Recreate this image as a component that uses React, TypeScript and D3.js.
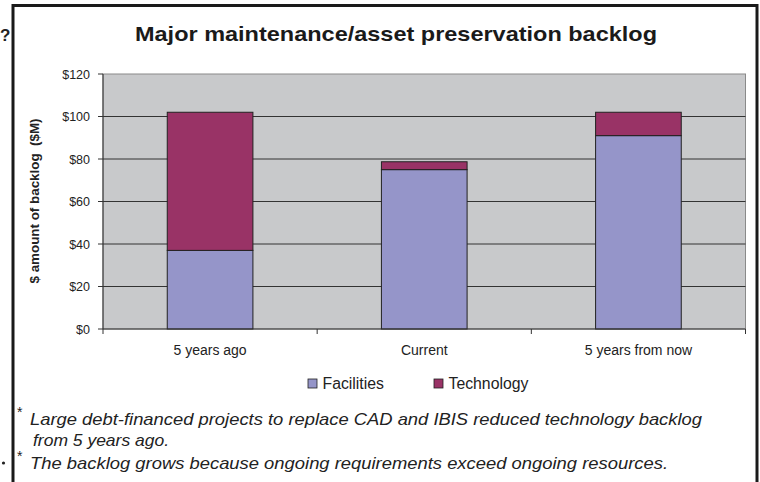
import { useEffect } from 'react';
import * as d3 from 'd3';

const categories = ['5 years ago', 'Current', '5 years from now'];
const facilities = [37, 75, 91];
const technology = [65, 3.7, 11];
const seriesNames = ['Facilities', 'Technology'];
const seriesColors = ['#9595c9', '#993366'];
const yTicks = [0, 20, 40, 60, 80, 100, 120];

const notes = [
  { star: true, text: 'Large debt-financed projects to replace CAD and IBIS reduced technology backlog', len: 672 },
  { star: false, text: 'from 5 years ago.', len: 136 },
  { star: true, text: 'The backlog grows because ongoing requirements exceed ongoing resources.', len: 638 },
];

const W = 760;
const H = 482;
const plot = { left: 103, top: 74, right: 745.5, bottom: 329 };
const font = '"Liberation Sans", Arial, sans-serif';

export default function App() {
  useEffect(() => {
    document.body.style.margin = '0';
  }, []);

  const x = d3
    .scaleBand<string>()
    .domain(categories)
    .range([plot.left, plot.right])
    .padding(0);
  const barW = x.bandwidth() * 0.4;

  const y = d3.scaleLinear().domain([0, 120]).range([plot.bottom, plot.top]);

  // stack technology on top of facilities
  const layers = [facilities, technology].map((vals, s) =>
    vals.map((v, i) => {
      const base = s === 0 ? 0 : facilities[i];
      return { cat: categories[i], y0: base, y1: base + v };
    })
  );

  return (
    <svg width={W} height={H} style={{ display: 'block', background: '#fff' }} fontFamily={font}>
      {/* slide fragments outside the chart frame */}
      <text x={0} y={41} fontSize={17} fontWeight="bold" fill="#222">?</text>
      <circle cx={3.5} cy={463} r={1.6} fill="#222" />

      {/* frame */}
      <rect x={13} y={5.5} width={744} height={H} fill="#fff" stroke="#1a1a1a" strokeWidth={3} />

      {/* title */}
      <text
        x={396}
        y={41}
        textAnchor="middle"
        fontSize={21}
        fontWeight="bold"
        fill="#1a1a1a"
        textLength={522}
        lengthAdjust="spacingAndGlyphs"
      >
        Major maintenance/asset preservation backlog
      </text>

      {/* plot area */}
      <rect
        x={plot.left}
        y={plot.top}
        width={plot.right - plot.left}
        height={plot.bottom - plot.top}
        fill="#c8c9cb"
        stroke="#8a8a8a"
        strokeWidth={1}
      />
      {yTicks.slice(1, -1).map((t) => (
        <line key={t} x1={plot.left} x2={plot.right} y1={y(t)} y2={y(t)} stroke="#333" strokeWidth={1} />
      ))}

      {/* bars */}
      {layers.map((layer, s) =>
        layer.map((d) => (
          <rect
            key={s + d.cat}
            x={(x(d.cat) as number) + (x.bandwidth() - barW) / 2}
            y={y(d.y1)}
            width={barW}
            height={y(d.y0) - y(d.y1)}
            fill={seriesColors[s]}
            stroke="#222"
            strokeWidth={1}
          />
        ))
      )}

      {/* y axis */}
      <line x1={plot.left} x2={plot.left} y1={plot.top} y2={plot.bottom} stroke="#333" />
      {yTicks.map((t) => (
        <g key={t}>
          <line x1={plot.left - 5} x2={plot.left} y1={y(t)} y2={y(t)} stroke="#333" />
          <text x={90} y={y(t) + 4.5} textAnchor="end" fontSize={12.5} fill="#222">
            ${t}
          </text>
        </g>
      ))}
      <text
        transform={`translate(39,${(plot.top + plot.bottom) / 2 - 0.5}) rotate(-90)`}
        textAnchor="middle"
        fontSize={13}
        fontWeight="bold"
        fill="#222"
        style={{ whiteSpace: 'pre' }}
        textLength={165}
        lengthAdjust="spacingAndGlyphs"
      >
        {'$ amount of backlog  ($M)'}
      </text>

      {/* x axis */}
      <line x1={plot.left} x2={plot.right} y1={plot.bottom} y2={plot.bottom} stroke="#333" />
      {[...categories.map((c) => x(c) as number), plot.right].map((v, i) => (
        <line key={i} x1={v} x2={v} y1={plot.bottom} y2={plot.bottom + 5} stroke="#333" />
      ))}
      {categories.map((c) => (
        <text
          key={c}
          x={(x(c) as number) + x.bandwidth() / 2}
          y={355}
          textAnchor="middle"
          fontSize={14}
          fill="#222"
        >
          {c}
        </text>
      ))}

      {/* legend */}
      {seriesNames.map((n, i) => (
        <g key={n} transform={`translate(${i === 0 ? 308 : 434},379)`}>
          <rect x={0} y={0} width={9} height={9} fill={seriesColors[i]} stroke="#222" strokeWidth={0.8} />
          <text x={14.5} y={10} fontSize={15.8} fill="#222">
            {n}
          </text>
        </g>
      ))}

      {/* footnotes */}
      {notes.map((n, i) => (
        <g key={i}>
          {n.star && (
            <text x={17} y={[417, 0, 461][i]} fontSize={14} fill="#222">
              *
            </text>
          )}
          <text
            x={i === 1 ? 33 : 30}
            y={[425, 446, 469][i]}
            fontSize={17}
            fontStyle="italic"
            fill="#222"
            textLength={n.len}
            lengthAdjust="spacingAndGlyphs"
          >
            {n.text}
          </text>
        </g>
      ))}
    </svg>
  );
}
